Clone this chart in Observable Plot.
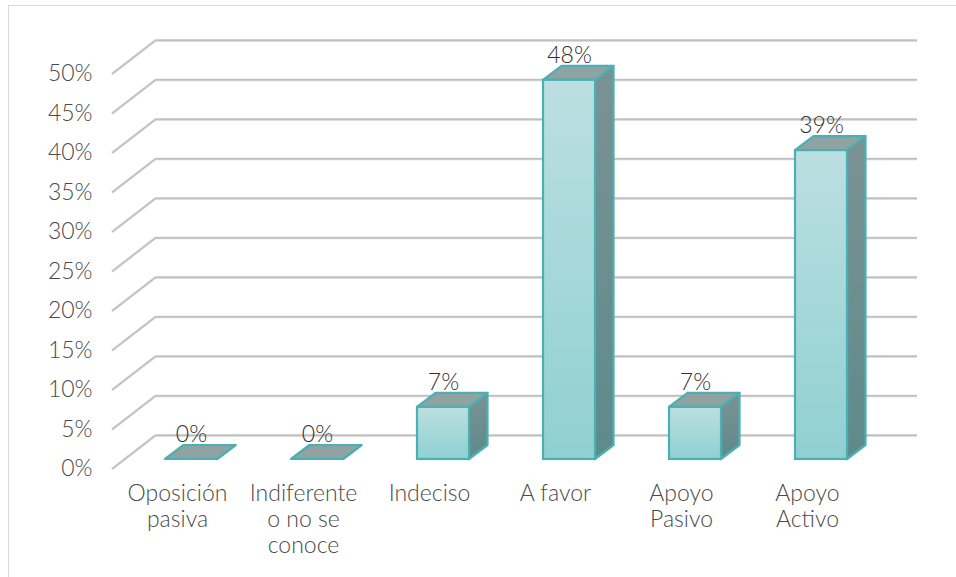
<!DOCTYPE html>
<html>
<head>
<meta charset="utf-8">
<script src="https://cdn.jsdelivr.net/npm/d3@7"></script>
<script src="https://cdn.jsdelivr.net/npm/@observablehq/plot@0.6"></script>
<style>
html,body{margin:0;padding:0;background:#fff;overflow:hidden}
#wrap{position:relative;width:956px;height:577px}
#wrap svg{position:absolute;left:0;top:0;background:transparent}
#frame{position:absolute;left:8px;top:5px;width:970px;height:600px;border:1.5px solid #d9d9d9;box-sizing:border-box}
</style>
</head>
<body>
<div id="wrap"><div id="frame"></div></div>
<script>
const categories = ["Oposición\npasiva","Indiferente\no no se\nconoce","Indeciso","A favor","Apoyo\nPasivo","Apoyo\nActivo"];
const values = [0, 0, 0.066, 0.48, 0.066, 0.391];
const labels = ["0%","0%","7%","48%","7%","39%"];
const yTicks = [0,0.05,0.1,0.15,0.2,0.25,0.3,0.35,0.4,0.45,0.5];
const rows = categories.map((c,i)=>({c, v:values[i], l:labels[i]}));

const fontFamily = "Lato, 'Open Sans', sans-serif";
const wallDx = 44, wallDy = -34;
const barDx = 13, barDy = -10;
const boxDx = 18.5, boxDy = -14;
const teal = "#4bb0b3";

const defs = () => {
  const s = d3.create("svg:defs");
  const g = s.append("linearGradient").attr("id","front").attr("x1",0).attr("y1",0).attr("x2",0).attr("y2",1);
  g.append("stop").attr("offset","0%").attr("stop-color","#bcdfe1");
  g.append("stop").attr("offset","100%").attr("stop-color","#90d0d1");
  const h = s.append("linearGradient").attr("id","side").attr("x1",0).attr("y1",0).attr("x2",0).attr("y2",1);
  h.append("stop").attr("offset","0%").attr("stop-color","#7b9294");
  h.append("stop").attr("offset","100%").attr("stop-color","#5e8a8b");
  return s.node();
};

const diagonals = (index, {y}, values, dims) => {
  const g = d3.create("svg:g").attr("fill","none");
  for (const [col,w] of [["#d2d2d2",2.6],["#b9b9b9",1]]) {
    g.append("g").attr("stroke",col).attr("stroke-width",w).selectAll("line").data(yTicks).join("line")
      .attr("x1",dims.marginLeft).attr("x2",dims.marginLeft+wallDx)
      .attr("y1",d=>y(d)).attr("y2",d=>y(d)+wallDy);
  }
  return g.node();
};

const boxes = (index, {x, y}) => {
  const g = d3.create("svg:g").attr("stroke",teal).attr("stroke-width",2.2).attr("stroke-linejoin","round");
  const bw = x.bandwidth();
  for (const r of rows) {
    const x0 = x(r.c)+barDx, x1 = x0+bw, yt = y(r.v)+barDy, yb = y(0)+barDy;
    g.append("polygon").attr("fill","url(#side)")
      .attr("points",[[x1,yt],[x1+boxDx,yt+boxDy],[x1+boxDx,yb+boxDy],[x1,yb]].join(" "));
    g.append("polygon").attr("fill","#8fa3a3")
      .attr("points",[[x0,yt],[x0+boxDx,yt+boxDy],[x1+boxDx,yt+boxDy],[x1,yt]].join(" "));
  }
  return g.node();
};

const plot = Plot.plot({
  width: 956,
  height: 577,
  marginLeft: 112,
  marginRight: 83,
  marginTop: 74,
  marginBottom: 108,
  style: {background:"transparent", fontFamily},
  x: {domain: categories, paddingInner: 0.59, paddingOuter: 0.295, label: null},
  y: {domain: [0, 0.5], label: null},
  marks: [
    defs,
    Plot.ruleY(yTicks, {dx: wallDx, dy: wallDy, stroke: "#d2d2d2", strokeWidth: 2.6}),
    Plot.ruleY(yTicks, {dx: wallDx, dy: wallDy - 0.3, stroke: "#b9b9b9", strokeWidth: 1}),
    diagonals,
    boxes,
    Plot.barY(rows, {x: "c", y: "v", dx: barDx, dy: barDy, fill: "url(#front)", stroke: teal, strokeWidth: 2.2}),
    Plot.axisY({ticks: yTicks, tickFormat: d3.format(".0%"), tickSize: 0, tickPadding: 20, fontSize: 23, fill: "#4a4a4a", label: null, dy: -0.5, fontWeight: 300}),
    Plot.axisX({tickSize: 0, tickPadding: 13, fontSize: 23, fill: "#4a4a4a", label: null, lineHeight: 1.13, fontWeight: 300, dx: -1, style: {letterSpacing: "1.5px"}}),
    Plot.text(rows, {x: "c", y: "v", text: "l", dx: barDx, dy: -35, fontSize: 23, fill: "#303030", fontWeight: 300})
  ]
});
document.getElementById("wrap").appendChild(plot);
</script>
</body>
</html>
